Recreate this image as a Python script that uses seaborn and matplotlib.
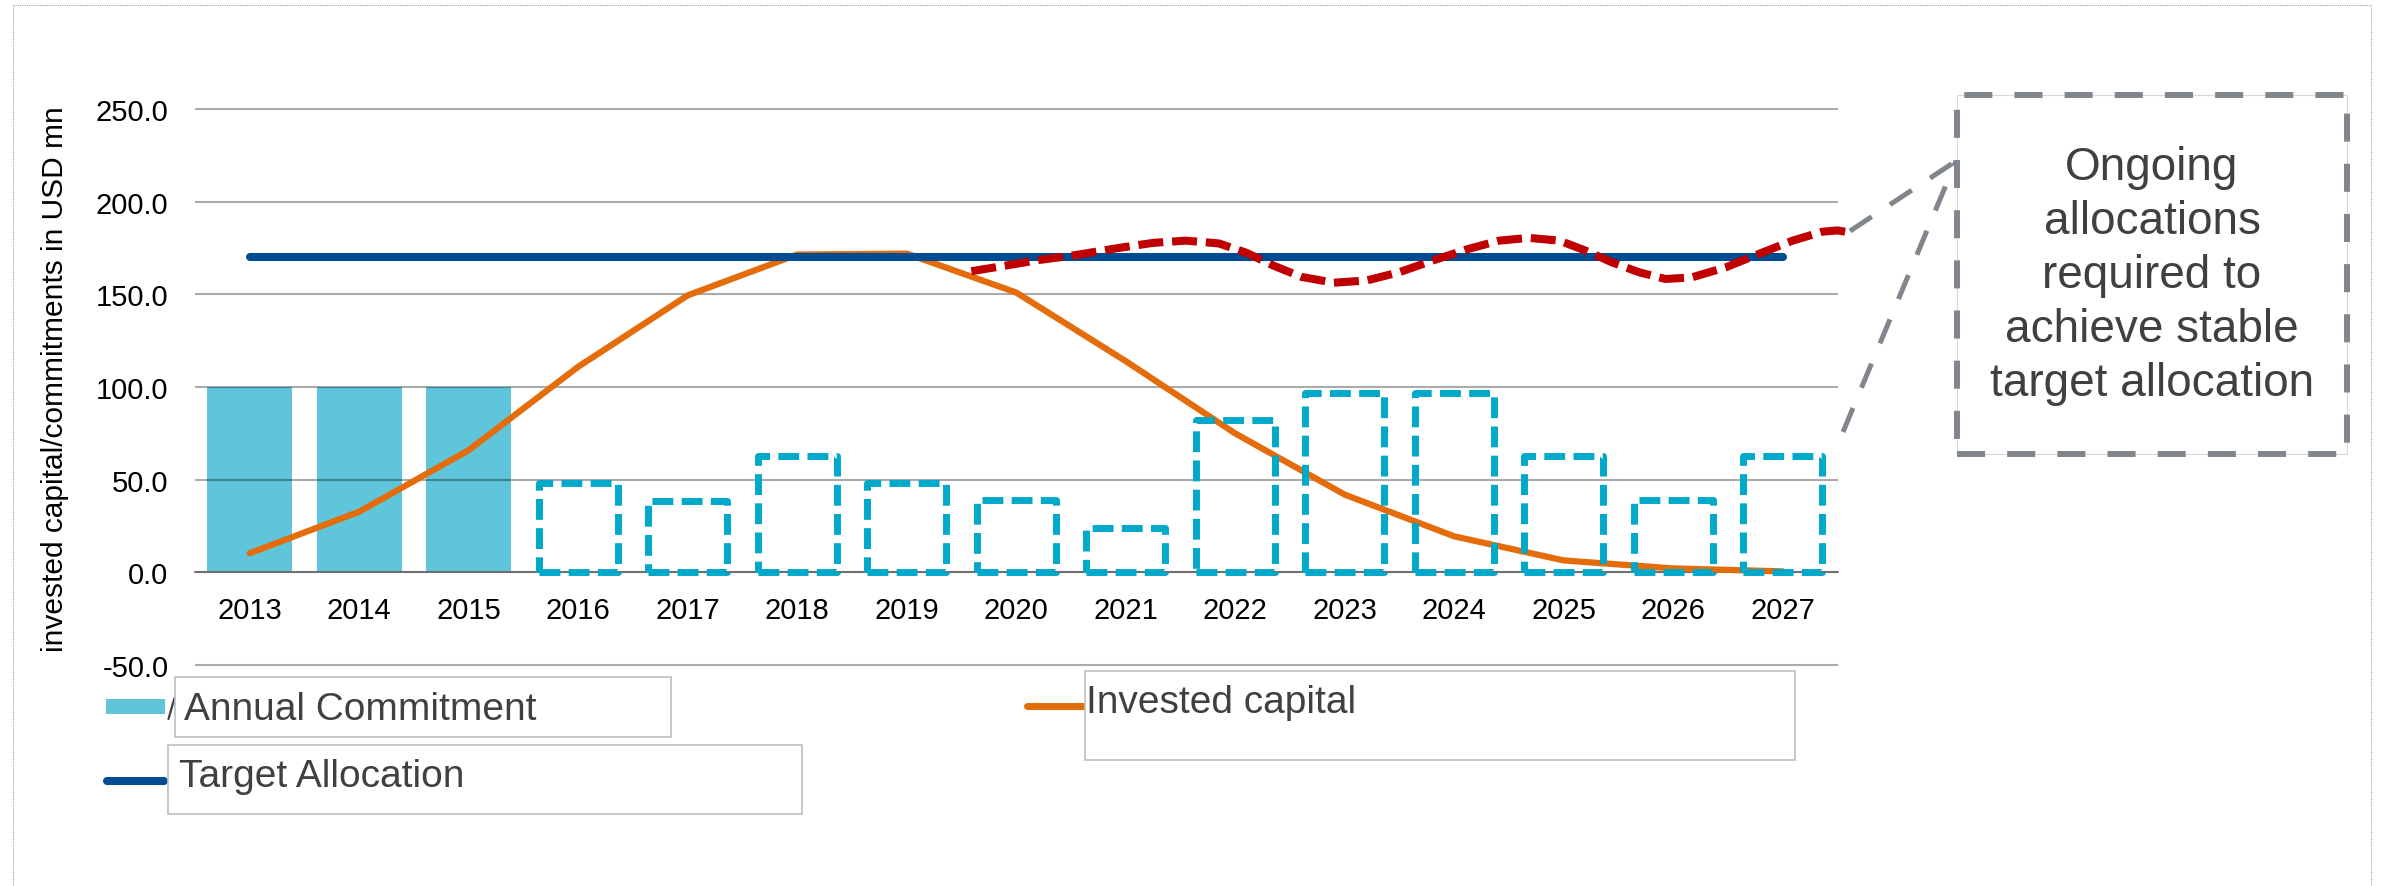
import numpy as np
import pandas as pd
import matplotlib
matplotlib.use("Agg")
import matplotlib.pyplot as plt
from matplotlib.patches import Rectangle
from matplotlib.lines import Line2D
import seaborn as sns

# ---- data -------------------------------------------------------------
years = [str(y) for y in range(2013, 2028)]

committed_years = ["2013", "2014", "2015"]
committed = [100.0, 100.0, 100.0]

planned_years = ["2016", "2017", "2018", "2019", "2020", "2021",
                 "2022", "2023", "2024", "2025", "2026", "2027"]
planned = [48.5, 38.5, 63.0, 48.5, 39.0, 24.0, 82.0, 97.0, 97.0, 63.0, 39.0, 63.0]

invested = [10.4, 32.8, 66.0, 111.0, 149.5, 171.5, 172.0, 151.0,
            114.0, 75.0, 42.0, 19.5, 6.5, 2.2, 0.6]
target = [170.0, 170.0, 170.0, 170.0, 170.0, 170.0, 170.0, 170.0,
          170.0, 170.0, 170.0, 170.0, 170.0, 170.0, 170.0]

# hand-drawn "ongoing allocations" curve (x in category positions)
ongoing_x = [6.59, 6.9, 7.2, 7.52, 7.93, 8.25, 8.55, 8.85, 9.1, 9.35, 9.6, 9.9,
             10.2, 10.5, 10.8, 11.11, 11.41, 11.68, 11.96, 12.2, 12.44, 12.69,
             12.93, 13.17, 13.48, 13.78, 14.09, 14.36, 14.5, 14.6]
ongoing_y = [162.5, 165.5, 168.5, 171.0, 175.0, 177.8, 179.0, 177.5, 172.5, 165.5,
             159.5, 156.3, 157.5, 162.0, 168.2, 174.2, 179.0, 180.5, 179.0, 173.6,
             167.3, 161.9, 158.3, 159.2, 164.6, 171.8, 179.0, 183.8, 184.5, 183.5]

y_ticks = [-50, 0, 50, 100, 150, 200, 250]
y_label = "invested capital/commitments in USD mn"
callout_text = "Ongoing\nallocations\nrequired to\nachieve stable\ntarget allocation"

# ---- colours ----------------------------------------------------------
C_BAR = "#5EC5DA"
C_PLAN = "#00A8CA"
C_INV = "#E46C0A"
C_TGT = "#004C93"
C_ONG = "#C00000"
C_GRID = "#A6A6A6"
C_CALL = "#80868B"
C_TXT = "#404040"

sns.set_style("white")
plt.rcParams["font.family"] = ["Liberation Sans", "DejaVu Sans"]

W, H = 2381, 887
fig = plt.figure(figsize=(W / 100, H / 100), dpi=100)


def fx(x):
    return x / W


def fy(y):
    return 1 - y / H


ax_top, ax_bot = 106.3, 669.9
ax = fig.add_axes([fx(195), fy(ax_bot), (1837.5 - 195) / W, (ax_bot - ax_top) / H])

# committed bars
df_c = pd.DataFrame({"year": committed_years, "value": committed})
sns.barplot(data=df_c, x="year", y="value", order=years, color=C_BAR,
            saturation=1, width=0.775, errorbar=None, ax=ax, linewidth=0, zorder=1)

# planned bars (outline only)
n0 = len(ax.patches)
df_p = pd.DataFrame({"year": planned_years, "value": planned})
sns.barplot(data=df_p, x="year", y="value", order=years, color=C_PLAN,
            saturation=1, width=0.72, fill=False, errorbar=None, ax=ax, zorder=6)
for p in ax.patches[n0:]:
    p.set_facecolor("none")
    p.set_edgecolor(C_PLAN)
    p.set_linewidth(5)
    p.set_linestyle((0, (3, 1.2)))
    p.set_joinstyle("round")
    p.set_zorder(6)

df_l = pd.DataFrame({"pos": np.arange(len(years)), "invested": invested, "target": target})
sns.lineplot(data=df_l, x="pos", y="invested", color=C_INV, linewidth=4.5, ax=ax,
             zorder=3, solid_capstyle="round", solid_joinstyle="round")
sns.lineplot(data=df_l, x="pos", y="target", color=C_TGT, linewidth=5.8, ax=ax,
             zorder=4, solid_capstyle="round")

ax.plot(ongoing_x, ongoing_y, color=C_ONG, linewidth=5.8, linestyle=(0, (3.1, 1.1)),
        clip_on=False, zorder=5)

# ---- axes styling -----------------------------------------------------
ax.set_xlim(-0.5, 14.5)
ax.set_ylim(-52, 252)
ax.set_xlabel("")
ax.set_ylabel("")
ax.set_yticks(y_ticks)
ax.set_yticklabels([f"{v:.1f}" for v in y_ticks])
ax.set_xticks(range(len(years)))
ax.set_xticklabels(years)
ax.set_xticks(np.arange(-0.5, len(years), 1), minor=True)

ax.yaxis.grid(True, color="black", alpha=0.33, linewidth=1.5)
ax.xaxis.grid(False)
ax.set_axisbelow(False)
for s in ["top", "right", "left"]:
    ax.spines[s].set_visible(False)
ax.spines["bottom"].set_position(("data", 0))
ax.spines["bottom"].set_color(C_GRID)
ax.spines["bottom"].set_linewidth(1.5)

ax.tick_params(axis="x", which="major", length=0, pad=17, labelsize=21, labelcolor="black")
ax.tick_params(axis="x", which="minor", length=6.5, width=1.5, color=C_GRID, direction="out")
ax.tick_params(axis="y", length=0, pad=19, labelsize=21, labelcolor="black")

fig.text(fx(55), fy(379), y_label, rotation=90, ha="center", va="center",
         fontsize=21.5, color="black")

# ---- legend -----------------------------------------------------------
leg_fs = 28
# Annual Commitment
fig.patches.append(Rectangle((fx(106), fy(715)), (165 - 106) / W, 15 / H,
                             transform=fig.transFigure, facecolor=C_BAR, edgecolor="none", zorder=1))
# stroke of a glyph peeking out from under the label box
fig.lines.append(Line2D([fx(168.5), fx(174.5)], [fy(720), fy(699)], transform=fig.transFigure,
                        color=C_TXT, linewidth=1.6, zorder=1))
fig.patches.append(Rectangle((fx(174.5), fy(737.7)), (670.5 - 174.5) / W, (737.7 - 677.7) / H,
                             transform=fig.transFigure, facecolor="white", edgecolor="#BFBFBF",
                             linewidth=1.2, zorder=2))
fig.text(fx(184), fy(720), "Annual Commitment", fontsize=leg_fs, color=C_TXT,
         ha="left", va="baseline", zorder=3)

# Target Allocation
fig.lines.append(Line2D([fx(107), fx(163.6)], [fy(781.7), fy(781.7)], transform=fig.transFigure,
                        color=C_TGT, linewidth=5.8, solid_capstyle="round", zorder=1))
fig.patches.append(Rectangle((fx(168), fy(815)), (802.5 - 168) / W, (815 - 745.7) / H,
                             transform=fig.transFigure, facecolor="white", edgecolor="#BFBFBF",
                             linewidth=1.2, zorder=2))
fig.text(fx(179), fy(786.7), "Target Allocation", fontsize=leg_fs, color=C_TXT,
         ha="left", va="baseline", zorder=3)

# Invested capital
fig.lines.append(Line2D([fx(1027), fx(1088)], [fy(706.7), fy(706.7)], transform=fig.transFigure,
                        color=C_INV, linewidth=5, solid_capstyle="round", zorder=1))
fig.patches.append(Rectangle((fx(1085), fy(761)), (1795.4 - 1085) / W, (761 - 671.7) / H,
                             transform=fig.transFigure, facecolor="white", edgecolor="#BFBFBF",
                             linewidth=1.2, zorder=2))
fig.text(fx(1086), fy(713.3), "Invested capital", fontsize=leg_fs, color=C_TXT,
         ha="left", va="baseline", zorder=3)

# ---- callout ----------------------------------------------------------
bx0, by0, bx1, by1 = 1957, 96, 2347, 455
fig.patches.append(Rectangle((fx(bx0), fy(by1)), (bx1 - bx0) / W, (by1 - by0) / H,
                             transform=fig.transFigure, facecolor="white", edgecolor="#D9D9D9",
                             linewidth=0.8, zorder=2))
fig.patches.append(Rectangle((fx(bx0), fy(by1)), (bx1 - bx0) / W, (by1 - by0) / H,
                             transform=fig.transFigure, facecolor="none", edgecolor=C_CALL,
                             linewidth=4.3, linestyle=(0, (4.7, 3.7)), joinstyle="miter", zorder=3))
apex = (1956, 162)
for sx, sy in [(1850, 232), (1843, 433)]:
    fig.lines.append(Line2D([fx(sx), fx(apex[0])], [fy(sy), fy(apex[1])], transform=fig.transFigure,
                            color=C_CALL, linewidth=3.6, linestyle=(0, (5.2, 4.4)), zorder=3))
fig.text(fx(2152), fy(276), callout_text, fontsize=33, color=C_TXT, ha="center",
         va="center", linespacing=1.3, zorder=4)

# ---- page frame ---------------------------------------------------------
for xs, ys in [([12.7, 12.7], [6, 890]), ([12.7, 2370.7], [6, 6]), ([2370.7, 2370.7], [6, 890])]:
    fig.lines.append(Line2D([fx(v) for v in xs], [fy(v) for v in ys], transform=fig.transFigure,
                            color="#A0A0A0", linewidth=0.8, linestyle=(0, (1, 1)), zorder=0))

fig.savefig("out.png", dpi=100, facecolor="white")
